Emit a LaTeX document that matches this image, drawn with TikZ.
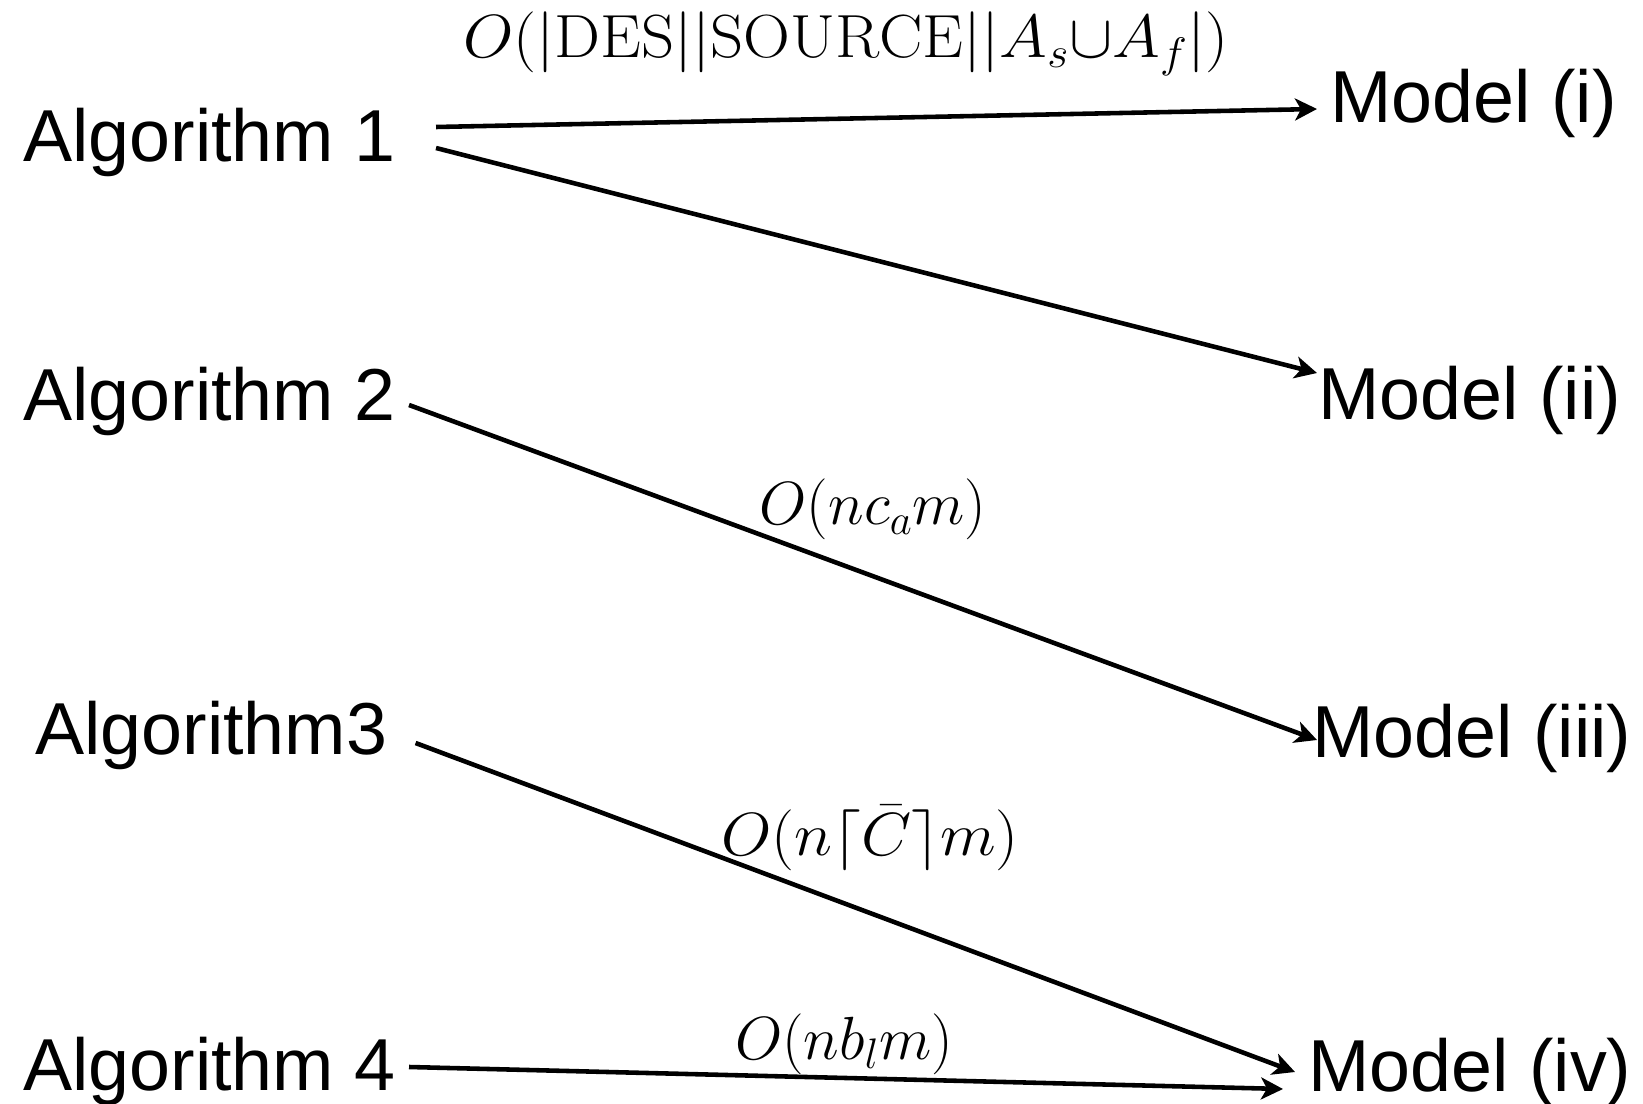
\RequirePackage{fix-cm}
\documentclass[tikz,border=0pt]{standalone}
\usepackage{amsmath,amssymb}
\usepackage{graphicx}
\usepackage{fontspec}
\newfontfamily\labelfont{Liberation Sans}
\usetikzlibrary{arrows.meta, positioning}
\tikzstyle{ar} = [-{Stealth[length=0.44cm, width=0.44cm, inset=0.12cm]}, line width=2.6pt]
\newcommand{\widemath}[1]{\scalebox{1.065}[1]{$#1$}}

\begin{document}
\begin{tikzpicture}[
  x=0.02cm, y=-0.02cm,
  txtlabel/.style={inner sep=0pt, anchor=base west,
               font=\labelfont\fontsize{41.9pt}{48pt}\selectfont},
  alg/.style={txtlabel},
  model/.style={txtlabel},
  cplx/.style={inner sep=0pt, anchor=base,
                font=\fontsize{34.7pt}{40pt}\selectfont}
]
  \useasboundingbox (0,0) rectangle (1643,1104);

  \node[alg] (a1) at (23,162)  {Algorithm 1};
  \node[alg] (a2) at (23,421)  {Algorithm 2};
  \node[alg] (a3) at (35,754)  {Algorithm3};
  \node[alg] (a4) at (23,1090) {Algorithm 4};

  \node[model] (m1) at (1330,123)  {Model (i)};
  \node[model] (m2) at (1318,420)  {Model (ii)};
  \node[model] (m3) at (1312,757)  {Model (iii)};
  \node[model] (m4) at (1308,1091) {Model (iv)};

  \node[cplx] (c1) at (846,58)   {\widemath{O(|\mathrm{DES}||\mathrm{SOURCE}||A_s{\cup}A_f|)}};
  \node[cplx] (c2) at (873,525)  {$O(nc_am)$};
  \node[cplx] (c3) at (870,855)  {\widemath{O(n\lceil\bar{C}\rceil m)}};
  \node[cplx] (c4) at (844,1059) {$O(nb_lm)$};

  \draw[ar] ([shift={(40,-35)}]a1.base east) -- ([shift={(-13,-14)}]m1.base west);
  \draw[ar] ([shift={(40,-14)}]a1.base east) -- ([shift={(-1,-47)}]m2.base west);
  \draw[ar] ([shift={(13,-16)}]a2.base east) -- ([shift={(5,-17)}]m3.base west);
  \draw[ar] ([shift={(28,-11)}]a3.base east) -- ([shift={(-13,-19)}]m4.base west);
  \draw[ar] ([shift={(13,-23)}]a4.base east) -- ([shift={(-25,-2)}]m4.base west);
\end{tikzpicture}
\end{document}
